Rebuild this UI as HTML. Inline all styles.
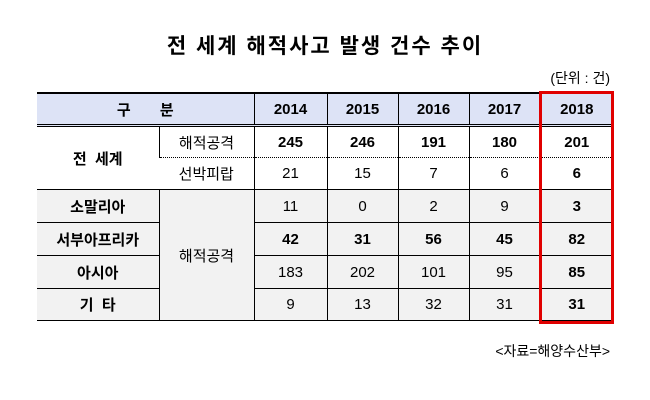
<!DOCTYPE html>
<html><head><meta charset="utf-8"><style>
body{margin:0;width:650px;height:400px;background:#fff;font-family:"Liberation Sans","Noto Sans CJK KR",sans-serif;position:relative;overflow:hidden}
.t{position:absolute;left:0;width:650px;top:30px;text-align:center;font-size:21px;font-weight:bold;letter-spacing:2px}
.u{position:absolute;right:40px;top:68px;font-size:14px}
.s{position:absolute;right:40px;top:341px;font-size:14px}
table{position:absolute;left:37px;top:92px;border-collapse:collapse;font-size:15px;table-layout:fixed}
td{text-align:center;padding:0;border-left:1px solid #000;border-bottom:1px solid #000}
td:first-child{border-left:none}
tr.h td{background:#dde3f6;height:30px;border-top:2px solid #000;border-bottom:3px double #000;font-weight:bold}
.g{background:#f2f2f2}
.b{font-weight:bold}
.d{border-bottom:1px dotted #000}
.box{position:absolute;left:539px;top:91px;width:69px;height:227px;border:3px solid #e00000}
</style></head><body>
<div class="t">전 세계 해적사고 발생 건수 추이</div>
<div class="u">(단위 : 건)</div>
<table>
<colgroup><col style="width:122px"><col style="width:95px"><col style="width:73px"><col style="width:71px"><col style="width:71px"><col style="width:71px"><col style="width:73px"></colgroup>
<tr class="h"><td colspan="2">구&nbsp;&nbsp;&nbsp;&nbsp;&nbsp;&nbsp;&nbsp;분</td><td>2014</td><td>2015</td><td>2016</td><td>2017</td><td>2018</td></tr>
<tr style="height:32px"><td rowspan="2" class="b">전&nbsp; 세계</td><td class="d">해적공격</td><td class="d b">245</td><td class="d b">246</td><td class="d b">191</td><td class="d b">180</td><td class="d b">201</td></tr>
<tr style="height:32px"><td>선박피랍</td><td>21</td><td>15</td><td>7</td><td>6</td><td class="b">6</td></tr>
<tr style="height:33px" class="g"><td class="b">소말리아</td><td rowspan="4">해적공격</td><td>11</td><td>0</td><td>2</td><td>9</td><td class="b">3</td></tr>
<tr style="height:33px" class="g"><td class="b">서부아프리카</td><td class="b">42</td><td class="b">31</td><td class="b">56</td><td class="b">45</td><td class="b">82</td></tr>
<tr style="height:33px" class="g"><td class="b">아시아</td><td>183</td><td>202</td><td>101</td><td>95</td><td class="b">85</td></tr>
<tr style="height:32px" class="g"><td class="b">기&nbsp; 타</td><td>9</td><td>13</td><td>32</td><td>31</td><td class="b">31</td></tr>
</table>
<div class="box"></div>
<div class="s">&lt;자료=해양수산부&gt;</div>
</body></html>
